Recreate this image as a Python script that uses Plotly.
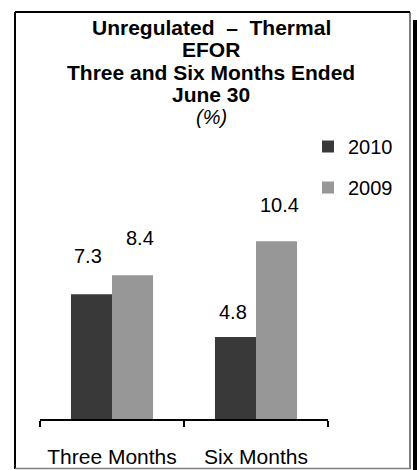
import plotly.graph_objects as go

# ---- data ----
categories = ["Three Months", "Six Months"]
series_names = ["2010", "2009"]
values_2010 = [7.3, 4.8]
values_2009 = [8.4, 10.4]
title_lines = ["<b>Unregulated  \u2013  Thermal</b>", "<b>EFOR</b>",
               "<b>Three and Six Months Ended</b>", "<b>June 30</b>", "<i>(%)</i>"]

# ---- layout constants (pixels) ----
W, H = 417, 470
ML, MR, MT, MB = 40, 89, 120, 51
PW, PH = W - ML - MR, H - MT - MB
PX_PER_UNIT = 17.1
YMAX = PH / PX_PER_UNIT
BARGAP = 0.43
FONT = "Liberation Sans, Arial, sans-serif"

def px(x):
    return (x - ML) / PW

def py(y):
    return (H - MB - y) / PH

colors = ["#393939", "#979797"]

fig = go.Figure()
for name, vals, col in zip(series_names, [values_2010, values_2009], colors):
    fig.add_trace(go.Bar(x=categories, y=vals, name=name, marker_color=col,
                         marker_line_width=0, legendgroup=name))

# data labels via annotations
cat_px = PW / len(categories)
bar_px = cat_px * (1 - BARGAP) / 2
label_dx = [[-3, -2], [7, 3]]
label_dy = [[38, 25], [37, 36]]
for si, vals in enumerate([values_2010, values_2009]):
    base_shift = (-0.5 + si) * bar_px
    for ci, v in enumerate(vals):
        fig.add_annotation(x=categories[ci], y=v, xref="x", yref="y",
                           text=f"{v:.1f}", showarrow=False,
                           xshift=base_shift + label_dx[si][ci],
                           yshift=label_dy[si][ci], yanchor="middle",
                           font=dict(family=FONT, size=20, color="black"))

# title lines
title_y = [27, 49.5, 72, 94.5, 117]
title_sizes = [21, 21, 21, 21, 20]
for t, yy, fs in zip(title_lines, title_y, title_sizes):
    fig.add_annotation(x=px(211), y=py(yy), xref="paper", yref="paper",
                       text=t, showarrow=False, xanchor="center", yanchor="middle",
                       font=dict(family=FONT, size=fs, color="black"))

# frame
line_k = dict(color="black", width=2)
fig.add_shape(type="line", xref="paper", yref="paper", x0=px(15), x1=px(410), y0=py(12), y1=py(12), line=line_k)
fig.add_shape(type="line", xref="paper", yref="paper", x0=px(15), x1=px(15), y0=py(12), y1=py(469), line=line_k)
fig.add_shape(type="line", xref="paper", yref="paper", x0=px(410), x1=px(410), y0=py(12), y1=py(469), line=dict(color="black", width=1))
fig.add_shape(type="line", xref="paper", yref="paper", x0=px(15), x1=px(410), y0=py(468.5), y1=py(468.5), line=dict(color="#808080", width=1.5))
fig.add_shape(type="rect", xref="paper", yref="paper", x0=px(413), x1=px(418), y0=py(20), y1=py(471),
              fillcolor="black", line_width=0)

fig.update_layout(
    template="none",
    width=W, height=H,
    margin=dict(l=ML, r=MR, t=MT, b=MB, pad=0, autoexpand=False),
    paper_bgcolor="white", plot_bgcolor="white",
    barmode="group", bargap=BARGAP, bargroupgap=0,
    font=dict(family=FONT, size=20, color="black"),
    showlegend=True,
    legend=dict(x=px(308), y=py(127), xanchor="left", yanchor="top",
                font=dict(family=FONT, size=20, color="black"),
                tracegroupgap=12, itemwidth=30, bgcolor="rgba(0,0,0,0)"),
    xaxis=dict(showline=True, linecolor="black", linewidth=2,
               ticks="outside", tickson="boundaries", ticklen=6, tickwidth=2,
               tickcolor="black", showgrid=False, zeroline=False, automargin=False,
               tickfont=dict(family=FONT, size=21, color="black"),
               ticklabelstandoff=18, fixedrange=True),
    yaxis=dict(visible=False, range=[0, YMAX], showgrid=False, zeroline=False,
               automargin=False, fixedrange=True),
)

fig.write_html("out.html", config={"displayModeBar": False},
               post_script="document.body.style.margin='0';document.body.style.overflow='hidden';")
